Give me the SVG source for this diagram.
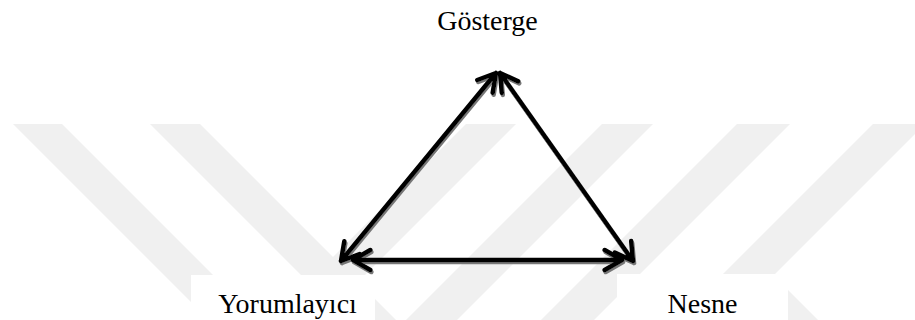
<svg xmlns="http://www.w3.org/2000/svg" width="915" height="320" viewBox="0 0 915 320">
<style>
.wm{fill:#f0f0f0}
.box{fill:#ffffff}
.lbl{font-family:'Liberation Serif','Times New Roman','DejaVu Serif',serif;font-size:28px;fill:#000000;text-anchor:middle}
.conn{fill:none;stroke:#000000;stroke-width:4.5;stroke-linecap:round;stroke-linejoin:round}
</style>
<defs>
<filter id="sh" x="-5%" y="-5%" width="110%" height="115%">
<feDropShadow dx="1" dy="2" stdDeviation="0.6" flood-color="#777777" flood-opacity="1"/>
</filter>
</defs>
<rect width="915" height="320" fill="#ffffff"/>
<g id="watermark">
<polygon class="wm" points="13,124 62,124 258,320 209,320"/>
<polygon class="wm" points="150,124 200,124 396,320 346,320"/>
<polygon class="wm" points="466,124 516,124 320,320 270,320"/>
<polygon class="wm" points="602,124 653,124 457,320 406,320"/>
<polygon class="wm" points="737,124 790,124 594,320 541,320"/>
<polygon class="wm" points="873,124 925,124 729,320 677,320"/>
<polygon class="wm" points="788,290 818,320 788,320"/>
</g>
<g id="node-gosterge">
<text class="lbl" x="487.5" y="29.5">Gösterge</text>
</g>
<g id="node-yorumlayici">
<rect class="box" x="191" y="275" width="184" height="45"/>
<text class="lbl" x="287.5" y="312.5">Yorumlayıcı</text>
</g>
<g id="node-nesne">
<rect class="box" x="617" y="274" width="171" height="46"/>
<text class="lbl" x="702.5" y="312.5">Nesne</text>
</g>
<g id="connectors" filter="url(#sh)">
<path id="edge-gosterge-yorumlayici" class="conn" d="M496,73 L341,261 M477.3,80 L496,73 L492.7,92.7 M344.3,241.3 L341,261 L359.7,254"/>
<path id="edge-gosterge-nesne" class="conn" d="M500,73 L633,261 M501.8,92.9 L500,73 L518.2,81.4 M631.2,241.1 L633,261 L614.8,252.6"/>
<path id="edge-yorumlayici-nesne" class="conn" d="M353,260 L622,260 M370.3,250 L353,260 L370.3,270 M604.7,250 L622,260 L604.7,270"/>
</g>
</svg>
